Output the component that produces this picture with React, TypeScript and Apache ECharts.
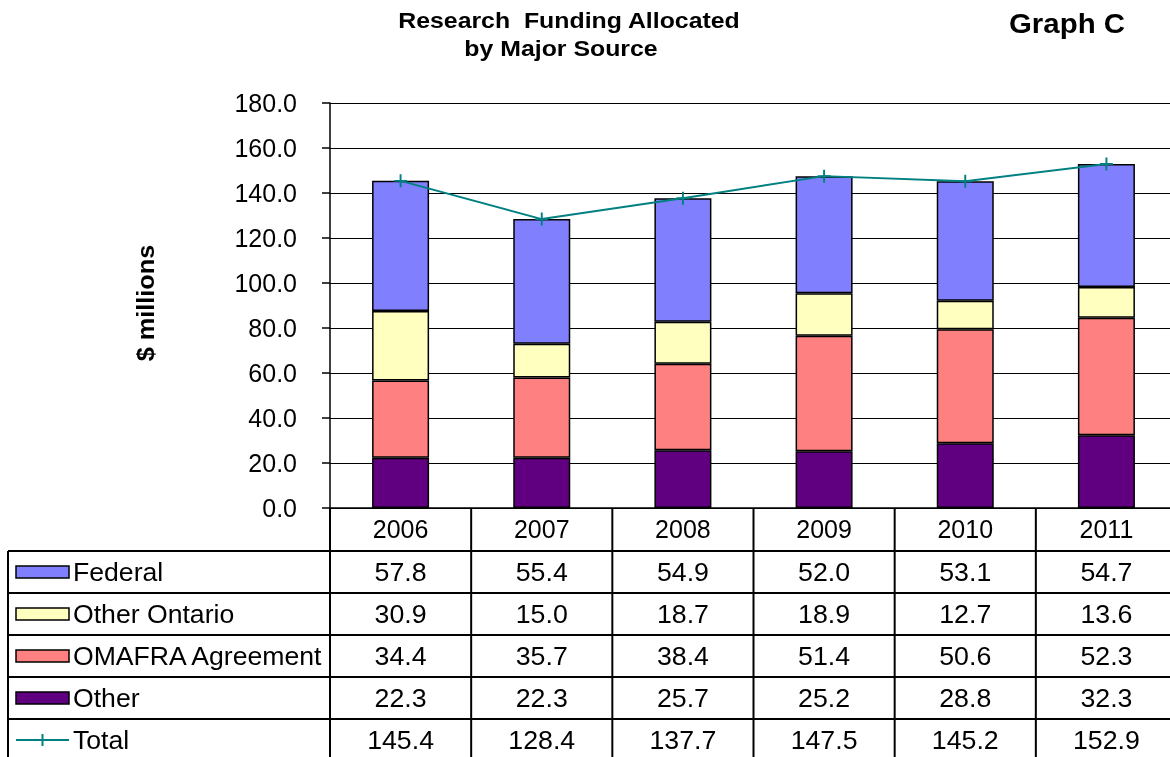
import React, { useEffect, useRef } from "react";
import * as echarts from "echarts";

const FONT = '"Liberation Sans", Arial, Helvetica, sans-serif';

const years = ["2006", "2007", "2008", "2009", "2010", "2011"];
const federal = [57.8, 55.4, 54.9, 52.0, 53.1, 54.7];
const otherOntario = [30.9, 15.0, 18.7, 18.9, 12.7, 13.6];
const omafra = [34.4, 35.7, 38.4, 51.4, 50.6, 52.3];
const other = [22.3, 22.3, 25.7, 25.2, 28.8, 32.3];
const total = [145.4, 128.4, 137.7, 147.5, 145.2, 152.9];

const yMin = 0;
const yMax = 180;
const yInterval = 20;

const COLORS = {
  federal: "#8080FF",
  otherOntario: "#FFFFC0",
  omafra: "#FF8080",
  other: "#600080",
  total: "#008080",
};

const PLUS = "path://M8.5,0h3v8.5h8.5v3h-8.5v8.5h-3v-8.5h-8.5v-3h8.5z";

function txt(text: string, x: number, y: number, opts: any = {}) {
  const { align = "center", fontSize = 25, fontWeight = "normal", scaleX = 1, rotation = 0 } = opts;
  return {
    type: "text",
    x,
    y,
    scaleX,
    rotation,
    style: {
      text,
      fill: "#000",
      fontSize,
      fontWeight,
      fontFamily: FONT,
      align,
      verticalAlign: "middle",
      textAlign: align,
      textVerticalAlign: "middle",
    },
    z: 10,
  };
}

export default function App() {
  const ref = useRef<HTMLDivElement>(null);

  useEffect(() => {
    const chart = echarts.init(ref.current!, null, { renderer: "svg" });
    const barItem = (color: string) => ({
      color,
      borderColor: "#000",
      borderWidth: 1.5,
    });
    chart.setOption({
      animation: false,
      textStyle: { fontFamily: FONT },
      grid: { left: 330, top: 103, width: 847, height: 405, containLabel: false },
      xAxis: {
        type: "category",
        data: years,
        boundaryGap: true,
        axisLine: { show: true, lineStyle: { color: "#000", width: 1.5 } },
        axisTick: { show: false },
        axisLabel: {
          fontFamily: FONT,
          fontSize: 25,
          color: "#000",
          margin: 21,
          verticalAlign: "middle",
        },
      },
      yAxis: {
        type: "value",
        min: yMin,
        max: yMax,
        interval: yInterval,
        axisLine: { show: true, lineStyle: { color: "#000", width: 1.5 } },
        axisTick: { show: true, inside: false, length: 8, lineStyle: { color: "#000", width: 1.5 } },
        axisLabel: {
          fontFamily: FONT,
          fontSize: 25,
          color: "#000",
          margin: 33,
          formatter: (v: number) => v.toFixed(1),
        },
        splitLine: { show: true, lineStyle: { color: "#000", width: 1.2 } },
      },
      series: [
        { name: "Other", type: "bar", stack: "s", barWidth: 57, data: other, itemStyle: barItem(COLORS.other) },
        { name: "OMAFRA Agreement", type: "bar", stack: "s", data: omafra, itemStyle: barItem(COLORS.omafra) },
        { name: "Other Ontario", type: "bar", stack: "s", data: otherOntario, itemStyle: barItem(COLORS.otherOntario) },
        { name: "Federal", type: "bar", stack: "s", data: federal, itemStyle: barItem(COLORS.federal) },
        {
          name: "Total",
          type: "line",
          data: total,
          symbol: PLUS,
          symbolSize: 13,
          showSymbol: true,
          itemStyle: { color: COLORS.total },
          lineStyle: { color: COLORS.total, width: 2 },
          z: 5,
        },
      ],
    });

    // Data table below the chart, aligned to the category axis
    const centers = years.map((y) => chart.convertToPixel({ xAxisIndex: 0 }, y) as number);
    const colW = centers[1] - centers[0];
    const bounds = [centers[0] - colW / 2, ...centers.map((c) => c + colW / 2)];
    const yBase = chart.convertToPixel({ yAxisIndex: 0 }, 0) as number;
    const tableLeft = 8;
    const headerBottom = 551;
    const rowH = 42;
    const rows = [
      { label: "Federal", values: federal, color: COLORS.federal, kind: "rect" },
      { label: "Other Ontario", values: otherOntario, color: COLORS.otherOntario, kind: "rect" },
      { label: "OMAFRA Agreement", values: omafra, color: COLORS.omafra, kind: "rect" },
      { label: "Other", values: other, color: COLORS.other, kind: "rect" },
      { label: "Total", values: total, color: COLORS.total, kind: "line" },
    ];
    const tableBottom = headerBottom + rows.length * rowH;
    const right = bounds[bounds.length - 1];
    const els: any[] = [];
    const lineStyle = { stroke: "#000", lineWidth: 2 };
    for (let i = 0; i < rows.length; i++) {
      const y = headerBottom + i * rowH;
      els.push({ type: "line", shape: { x1: tableLeft, y1: y, x2: right, y2: y }, style: lineStyle, z: 10 });
    }
    els.push({ type: "line", shape: { x1: tableLeft, y1: tableBottom, x2: right, y2: tableBottom }, style: lineStyle, z: 10 });
    els.push({ type: "line", shape: { x1: tableLeft, y1: headerBottom, x2: tableLeft, y2: tableBottom }, style: lineStyle, z: 10 });
    bounds.forEach((bx) => {
      els.push({ type: "line", shape: { x1: bx, y1: yBase, x2: bx, y2: tableBottom }, style: lineStyle, z: 10 });
    });
    rows.forEach((r, i) => {
      const cy = headerBottom + i * rowH + rowH / 2;
      if (r.kind === "rect") {
        els.push({
          type: "rect",
          shape: { x: 16, y: cy - 6, width: 53, height: 12 },
          style: { fill: r.color, stroke: "#000", lineWidth: 1.5 },
          z: 10,
        });
      } else {
        els.push({ type: "line", shape: { x1: 16, y1: cy, x2: 69, y2: cy }, style: { stroke: r.color, lineWidth: 2 }, z: 10 });
        els.push({ type: "line", shape: { x1: 42.5, y1: cy - 6, x2: 42.5, y2: cy + 6 }, style: { stroke: r.color, lineWidth: 2 }, z: 10 });
      }
      els.push(txt(r.label, 73, cy, { align: "left", scaleX: 1.065 }));
      r.values.forEach((v, j) => {
        els.push(txt(v.toFixed(1), centers[j], cy, { scaleX: 1.07 }));
      });
    });
    // Titles and axis name
    els.push(txt("Research  Funding Allocated", 569, 21, { fontSize: 22, fontWeight: "bold", scaleX: 1.13 }));
    els.push(txt("by Major Source", 561, 49, { fontSize: 22, fontWeight: "bold", scaleX: 1.13 }));
    els.push(txt("Graph C", 1067, 23, { fontSize: 27, fontWeight: "bold", scaleX: 1.09 }));
    els.push(txt("$ millions", 146, 303, { fontSize: 23, fontWeight: "bold", scaleX: 1.1, rotation: Math.PI / 2 }));
    chart.setOption({ graphic: els });

    return () => chart.dispose();
  }, []);

  return (
    <div
      ref={ref}
      style={{ position: "fixed", left: 0, top: 0, width: 1180, height: 757 }}
    />
  );
}
